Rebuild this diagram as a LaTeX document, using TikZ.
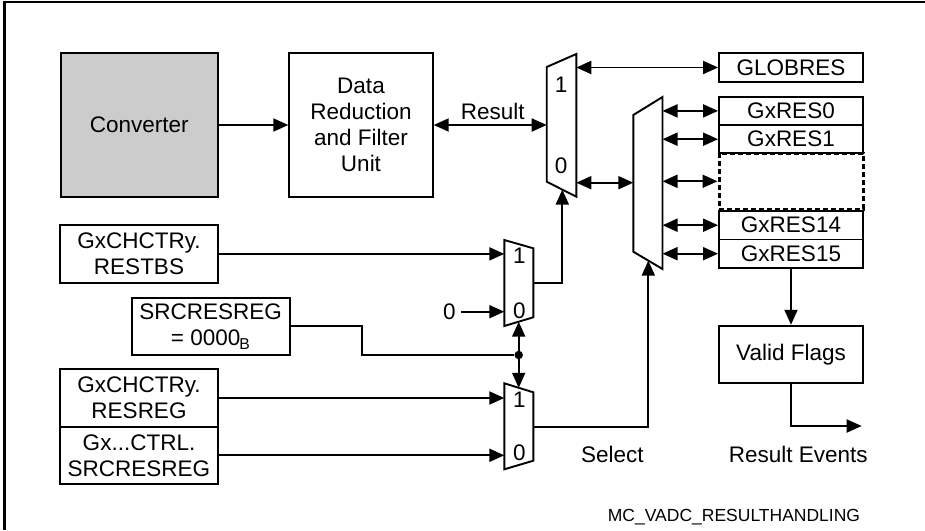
\documentclass[tikz,border=0pt]{standalone}
\usepackage{fontspec}
\setmainfont{Liberation Sans}
\usetikzlibrary{arrows.meta}
\definecolor{convgray}{gray}{0.8}
\tikzset{
  >={Triangle[length=15pt,width=13pt]},
  base_text/.style = {font=\fontsize{22.5}{26}\selectfont, inner sep=0pt,
    align=center},
  unit_node/.style = {base_text, rectangle, draw=black, line width=1.9pt,
    minimum height=143.4pt},% bloc de traitement
  reg_node/.style = {base_text, rectangle, draw=black, line width=1.9pt,
    minimum width=144pt, minimum height=28.4pt},% registre resultat
  ctrl_node/.style = {base_text, rectangle, draw=black, line width=1.9pt,
    minimum width=157.5pt, minimum height=57.5pt},% champ de controle
  mux_shape/.style = {draw=black, line width=1.9pt, fill=white},% multiplexeur
  wire/.style = {line width=1.9pt},
  junc_dot/.style = {circle, fill=black, inner sep=0pt, minimum size=8.5pt},
  note_text/.style = {font=\fontsize{17.5}{20}\selectfont, inner sep=0pt}
}

\begin{document}
\begin{tikzpicture}[x=1pt, y=-1pt]
    \useasboundingbox (0,0) rectangle (925,530);
    \draw[line width=2.5pt] (4.5,530) -- (4.5,2) -- (925,2);

    % blocs
    \node [unit_node, fill=convgray, minimum width=157pt] (conv) at (139.3,125) {Converter};
    \node [unit_node, minimum width=143.5pt] (drfu) at (361,125) {Data\\Reduction\\and Filter\\Unit};

    % registres
    \node [reg_node] (globres) at (791,67.5) {GLOBRES};
    \node [reg_node, dash pattern=on 5pt off 3pt, line width=3pt, minimum height=56pt] (resdots) at (791,181.3) {};
    \node [reg_node, minimum height=28.3pt] (res0) at (791,110.9) {GxRES0};
    \node [reg_node, minimum height=28.3pt] (res1) at (791,139.2) {GxRES1};
    \node [reg_node, minimum height=28.5pt] (res14) at (791,225.2) {GxRES14};
    \node [reg_node, minimum height=28.5pt] (res15) at (791,253.7) {GxRES15};
    \node [reg_node, minimum height=57.6pt] (valid) at (791,354.5) {Valid Flags};

    \node [ctrl_node] (restbs) at (139,253.9) {GxCHCTRy.\\RESTBS};
    \node [ctrl_node, minimum width=157.8pt] (srczero) at (210.7,326.3) {SRCRESREG\\= 0000\kern-1pt\textsubscript{B}};
    \node [ctrl_node] (resreg) at (139,398) {GxCHCTRy.\\RESREG};
    \node [ctrl_node] (srcres) at (139,455.3) {Gx...CTRL.\\SRCRESREG};

    % multiplexeurs
    \coordinate (m1_tl) at (546.7,67);   \coordinate (m1_tr) at (576.3,54);
    \coordinate (m1_br) at (576.3,196.7); \coordinate (m1_bl) at (546.7,181.7);
    \coordinate (mr_tl) at (633.3,115);  \coordinate (mr_tr) at (662.5,97);
    \coordinate (mr_br) at (662.5,269);  \coordinate (mr_bl) at (633.3,251.7);
    \coordinate (m2_tl) at (504.3,240);  \coordinate (m2_tr) at (533.3,248.3);
    \coordinate (m2_br) at (533.3,317.3); \coordinate (m2_bl) at (504.3,326);
    \coordinate (m3_tl) at (504.3,383.3); \coordinate (m3_tr) at (533.3,392.3);
    \coordinate (m3_br) at (533.3,460.7); \coordinate (m3_bl) at (504.3,469.3);
    \foreach \m in {m1,mr,m2,m3}
      \draw[mux_shape] (\m_tl) -- (\m_tr) -- (\m_br) -- (\m_bl) -- cycle;

    \node [base_text] (m1_one) at (561,85) {1};
    \node [base_text] (m1_zero) at (561,166) {0};
    \node [base_text] (m2_one) at (519.3,256) {1};
    \node [base_text] (m2_zero) at (519.3,311) {0};
    \node [base_text] (m3_one) at (519.3,400) {1};
    \node [base_text] (m3_zero) at (519.3,452.7) {0};

    % connexions
    \coordinate (m1_in) at (546.7,125);
    \coordinate (m1_out) at (576.3,182.7);
    \coordinate (mr_in) at (633.3,182.7);
    \coordinate (m1_sel) at (562.3,189.6);
    \coordinate (m2_out) at (533.3,283);
    \coordinate (m2_sel) at (518.7,321.7);
    \coordinate (m3_sel) at (518.7,387.8);
    \coordinate (m3_out) at (533.3,426.7);
    \coordinate (mr_sel) at (648.3,260.6);
    \coordinate (src_bend) at (361.8,355);
    \coordinate (events_end) at (861.7,426);
    \node [junc_dot] (junc) at (518.7,355) {};
    \node [base_text, inner xsep=5.5pt] (zero_in) at (449.3,311.7) {0};

    \draw[wire, ->] (conv) -- (drfu);
    \draw[wire, <->] (drfu.east) -- (m1_in);
    \draw[wire, <->] (globres.west -| m1_tr) -- (globres.west);
    \draw[wire, <->] (m1_out) -- (mr_in);
    \foreach \r in {res0,res1,resdots,res14,res15}
      \draw[wire, <->] (\r.west -| mr_tr) -- (\r.west);
    \draw[wire, ->] (m2_out) -| (m1_sel);
    \draw[wire, ->] (restbs.east) -- (restbs.east -| m2_tl);
    \draw[wire, ->] (zero_in) -- (zero_in -| m2_tl);
    \draw[wire] (srczero.east) -| (src_bend) -- (junc);
    \draw[wire, ->] (junc) -- (m2_sel);
    \draw[wire, ->] (junc) -- (m3_sel);
    \draw[wire, ->] (resreg.east) -- (resreg.east -| m3_tl);
    \draw[wire, ->] (srcres.east) -- (srcres.east -| m3_tl);
    \draw[wire, ->] (m3_out) -| (mr_sel);
    \draw[wire, ->] (res15) -- (valid);
    \draw[wire, ->] (valid.south) |- (events_end);

    % textes
    \node [base_text] (result_lbl) at (492.7,111.7) {Result};
    \node [base_text] (select_lbl) at (612.3,454.3) {Select};
    \node [base_text] (events_lbl) at (798.3,454.3) {Result Events};
    \node [note_text] (fig_id) at (734,516.7) {MC\_VADC\_RESULTHANDLING};
  \end{tikzpicture}
\end{document}
